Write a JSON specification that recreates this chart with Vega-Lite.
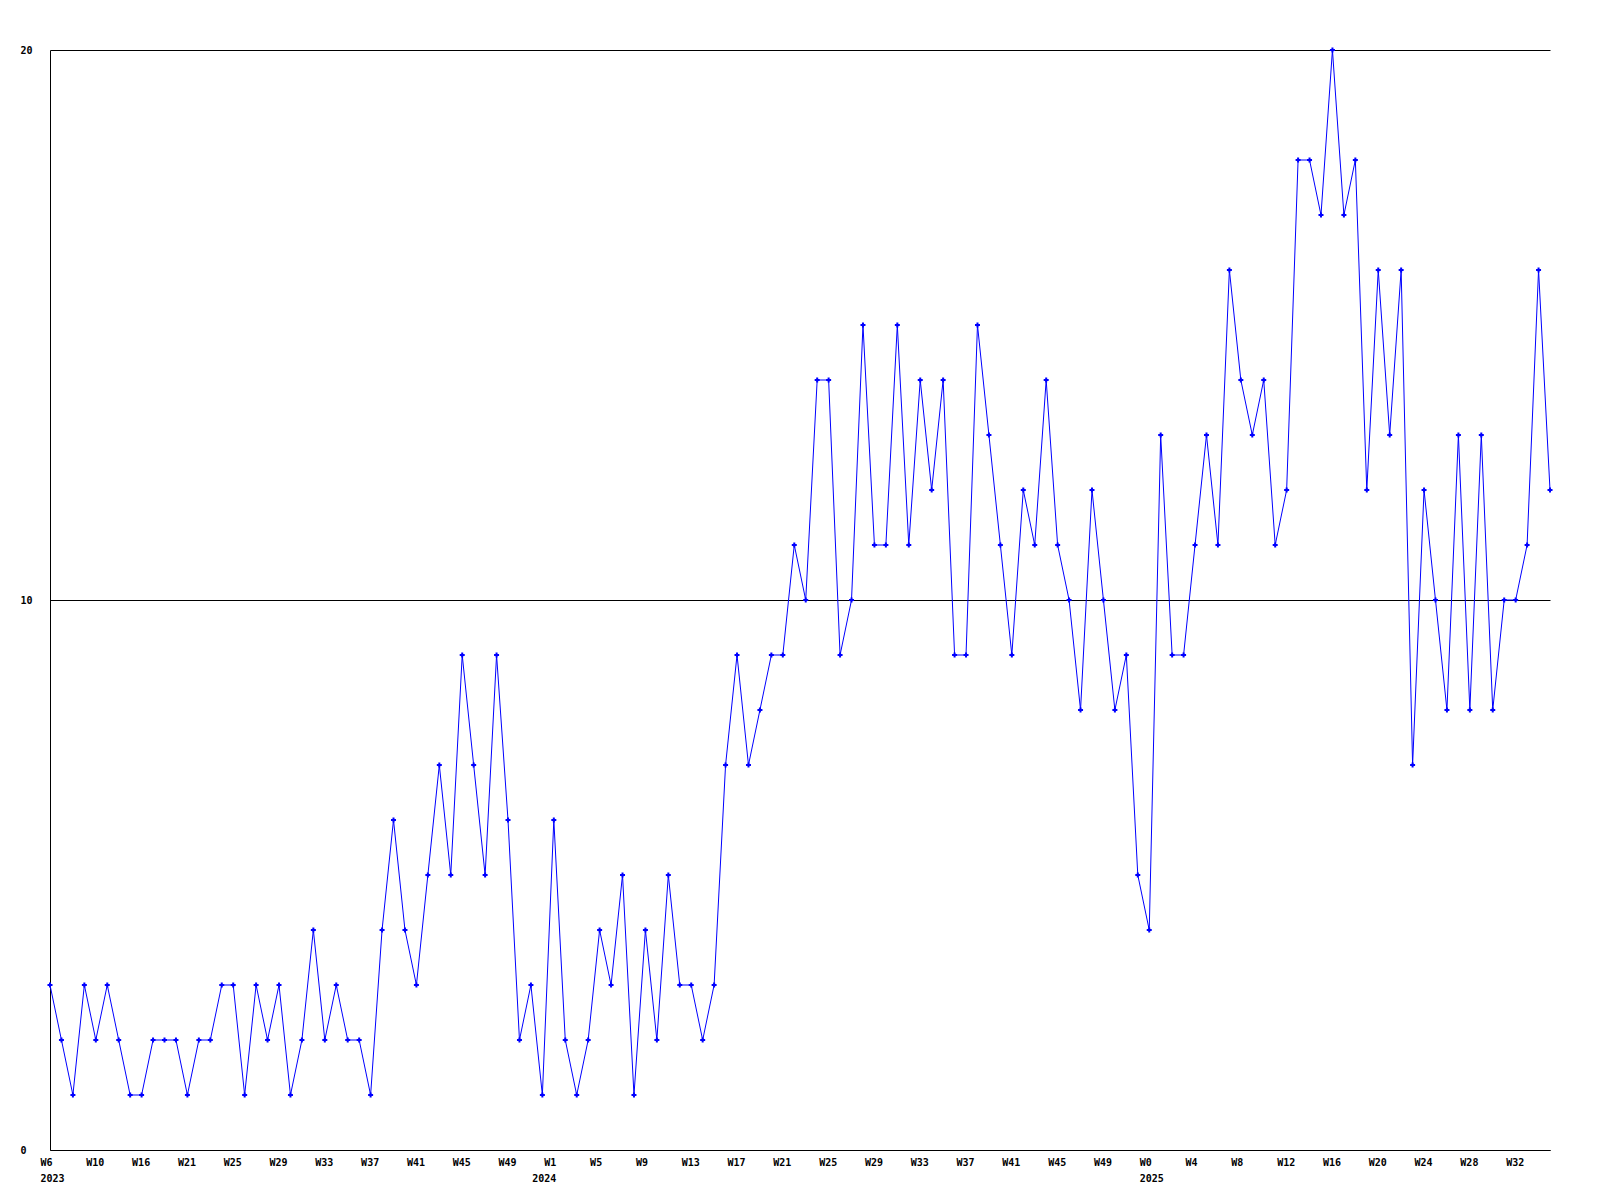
{
  "$schema": "https://vega.github.io/schema/vega-lite/v6.json",
  "autosize": "none",
  "padding": {"left": 50, "top": 50, "right": 50, "bottom": 50},
  "width": 1500,
  "height": 1100,
  "background": "white",
  "config": {
    "view": {"stroke": null},
    "axis": {"labelFont": "DejaVu Sans Mono", "labelFontWeight": "bold", "labelFontSize": 10, "labelColor": "black", "domainColor": "black", "domainWidth": 1}
  },
  "data": {"values": [
    {"k":"2023 W6","v":3},{"k":"2023 W7","v":2},{"k":"2023 W8","v":1},{"k":"2023 W9","v":3},{"k":"2023 W10","v":2},{"k":"2023 W11","v":3},{"k":"2023 W12","v":2},{"k":"2023 W13","v":1},{"k":"2023 W16","v":1},{"k":"2023 W17","v":2},{"k":"2023 W18","v":2},{"k":"2023 W19","v":2},
    {"k":"2023 W21","v":1},{"k":"2023 W22","v":2},{"k":"2023 W23","v":2},{"k":"2023 W24","v":3},{"k":"2023 W25","v":3},{"k":"2023 W26","v":1},{"k":"2023 W27","v":3},{"k":"2023 W28","v":2},{"k":"2023 W29","v":3},{"k":"2023 W30","v":1},{"k":"2023 W31","v":2},{"k":"2023 W32","v":4},{"k":"2023 W33","v":2},{"k":"2023 W34","v":3},{"k":"2023 W35","v":2},{"k":"2023 W36","v":2},{"k":"2023 W37","v":1},{"k":"2023 W38","v":4},
    {"k":"2023 W39","v":6},{"k":"2023 W40","v":4},{"k":"2023 W41","v":3},{"k":"2023 W42","v":5},{"k":"2023 W43","v":7},{"k":"2023 W44","v":5},{"k":"2023 W45","v":9},{"k":"2023 W46","v":7},{"k":"2023 W47","v":5},{"k":"2023 W48","v":9},{"k":"2023 W49","v":6},{"k":"2023 W50","v":2},{"k":"2023 W51","v":3},{"k":"2023 W52","v":1},
    {"k":"2024 W1","v":6},{"k":"2024 W2","v":2},{"k":"2024 W3","v":1},{"k":"2024 W4","v":2},{"k":"2024 W5","v":4},{"k":"2024 W6","v":3},{"k":"2024 W7","v":5},{"k":"2024 W8","v":1},{"k":"2024 W9","v":4},{"k":"2024 W10","v":2},{"k":"2024 W11","v":5},{"k":"2024 W12","v":3},{"k":"2024 W13","v":3},{"k":"2024 W14","v":2},{"k":"2024 W15","v":3},{"k":"2024 W16","v":7},
    {"k":"2024 W17","v":9},{"k":"2024 W18","v":7},{"k":"2024 W19","v":8},{"k":"2024 W20","v":9},{"k":"2024 W21","v":9},{"k":"2024 W22","v":11},{"k":"2024 W23","v":10},{"k":"2024 W24","v":14},{"k":"2024 W25","v":14},{"k":"2024 W26","v":9},{"k":"2024 W27","v":10},{"k":"2024 W28","v":15},{"k":"2024 W29","v":11},{"k":"2024 W30","v":11},{"k":"2024 W31","v":15},{"k":"2024 W32","v":11},{"k":"2024 W33","v":14},{"k":"2024 W34","v":12},
    {"k":"2024 W35","v":14},{"k":"2024 W36","v":9},{"k":"2024 W37","v":9},{"k":"2024 W38","v":15},{"k":"2024 W39","v":13},{"k":"2024 W40","v":11},{"k":"2024 W41","v":9},{"k":"2024 W42","v":12},{"k":"2024 W43","v":11},{"k":"2024 W44","v":14},{"k":"2024 W45","v":11},{"k":"2024 W46","v":10},{"k":"2024 W47","v":8},{"k":"2024 W48","v":12},{"k":"2024 W49","v":10},{"k":"2024 W50","v":8},{"k":"2024 W51","v":9},{"k":"2024 W52","v":5},
    {"k":"2025 W0","v":4},{"k":"2025 W1","v":13},{"k":"2025 W2","v":9},{"k":"2025 W3","v":9},{"k":"2025 W4","v":11},{"k":"2025 W5","v":13},{"k":"2025 W6","v":11},{"k":"2025 W7","v":16},{"k":"2025 W8","v":14},{"k":"2025 W9","v":13},{"k":"2025 W10","v":14},{"k":"2025 W11","v":11},{"k":"2025 W12","v":12},{"k":"2025 W13","v":18},{"k":"2025 W14","v":18},{"k":"2025 W15","v":17},{"k":"2025 W16","v":20},{"k":"2025 W17","v":17},
    {"k":"2025 W18","v":18},{"k":"2025 W19","v":12},{"k":"2025 W20","v":16},{"k":"2025 W21","v":13},{"k":"2025 W22","v":16},{"k":"2025 W23","v":7},{"k":"2025 W24","v":12},{"k":"2025 W25","v":10},{"k":"2025 W26","v":8},{"k":"2025 W27","v":13},{"k":"2025 W28","v":8},{"k":"2025 W29","v":13},{"k":"2025 W30","v":8},{"k":"2025 W31","v":10},{"k":"2025 W32","v":10},{"k":"2025 W33","v":11},{"k":"2025 W34","v":16},{"k":"2025 W35","v":12}
  ]},
  "encoding": {
    "x": {
      "field": "k", "type": "ordinal", "sort": null,
      "scale": {"type": "point", "padding": 0},
      "axis": {
        "title": null, "ticks": false, "tickSize": 0, "grid": false, "labelAngle": 0,
        "labelAlign": {"condition": {"test": "datum.value == '2024 W1'", "value": "right"}, "value": "left"},
        "labelOffset": {"condition": {"test": "datum.value == '2024 W1'", "value": 2}, "value": -10},
        "labelPadding": 7, "labelLineHeight": 16, "labelBaseline": "top",
        "values": ["2023 W6","2023 W10","2023 W16","2023 W21","2023 W25","2023 W29","2023 W33","2023 W37","2023 W41","2023 W45","2023 W49","2024 W1","2024 W5","2024 W9","2024 W13","2024 W17","2024 W21","2024 W25","2024 W29","2024 W33","2024 W37","2024 W41","2024 W45","2024 W49","2025 W0","2025 W4","2025 W8","2025 W12","2025 W16","2025 W20","2025 W24","2025 W28","2025 W32"],
        "labelExpr": "indexof(['2023 W6','2024 W1','2025 W0'], datum.value) >= 0 ? [split(datum.value,' ')[1], split(datum.value,' ')[0]] : split(datum.value,' ')[1]",
        "labelOverlap": false, "labelBound": false, "labelFlush": false
      }
    },
    "y": {
      "field": "v", "type": "quantitative",
      "scale": {"domain": [0, 20], "nice": false, "zero": true},
      "axis": {
        "title": null, "values": [0, 10, 20], "ticks": false, "tickSize": 0,
        "grid": true, "gridColor": "black", "gridOpacity": 1, "gridWidth": 1,
        "labelAlign": "left", "labelPadding": 30, "labelBaseline": "middle"
      }
    }
  },
  "layer": [
    {"mark": {"type": "line", "color": "#0000FF", "strokeWidth": 1}},
    {"mark": {"type": "point", "shape": "cross", "filled": true, "color": "#0000FF", "size": 25, "opacity": 1}}
  ]
}
